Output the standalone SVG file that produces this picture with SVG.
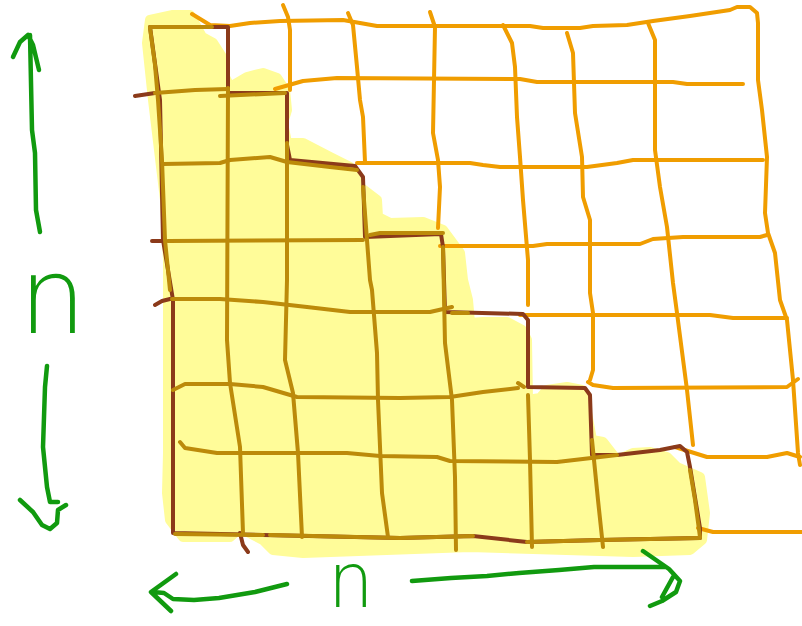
<svg xmlns="http://www.w3.org/2000/svg" width="802" height="626" viewBox="0 0 802 626">
<style>
.hl{fill:#FFFC99;stroke:#FFFC99;stroke-width:10;stroke-linejoin:round}
.o{fill:none;stroke:#F09D00;stroke-width:4;stroke-linecap:round;stroke-linejoin:round}
.b{fill:none;stroke:#8B3A1A;stroke-width:4;stroke-linecap:round;stroke-linejoin:round}
.i{fill:none;stroke:#BC8A0A;stroke-width:4;stroke-linecap:round;stroke-linejoin:round}
.g{fill:none;stroke:#119A0F;stroke-width:4.5;stroke-linecap:round;stroke-linejoin:round}
.t{fill:#119A0F;font-family:"DejaVu Sans","Liberation Sans",sans-serif;font-weight:200}
</style>
<rect width="802" height="626" fill="#ffffff"/>
<g id="highlight">
<path class="hl" d="M150,20 L173,15 L190,15 L202,37 L213,43 L222,57 L225,77 L230,87 L247,77 L263,73 L277,78 L285,90 L287,110 L283,123 L287,143 L303,143 L330,157 L350,167 L360,187 L377,200 L378,217 L390,223 L423,222 L443,230 L460,253 L463,280 L468,300 L470,323 L483,322 L507,322 L522,330 L527,340 L528,400 L540,398 L547,390 L567,387 L582,390 L587,413 L592,440 L603,442 L617,460 L633,453 L650,452 L667,457 L677,467 L700,477 L705,513 L702,540 L690,550 L633,552 L470,547 L303,553 L273,550 L263,540 L240,528 L230,537 L183,537 L170,520 L167,493 L168,453 L168,260 L165,200 L153,100 L147,43 Z"/>
</g>
<g id="outer-grid">
<path class="o" d="M192,14 L210,25 L230,26 L250,23 L280,21 L343,20 L377,26 L530,26 L543,28 L580,28 L593,26 L627,25 L653,21 L690,16 L730,10 L737,7 L750,7 L757,13 L758,23 L758,80 L762,110 L767,157 L765,213 L768,233 L775,253 L780,300 L787,320 L793,380 L798,453 L800,465"/>
<path class="o" d="M275,89 L303,81 L337,78 L520,79 L537,82 L673,82 L687,84 L743,84"/>
<path class="o" d="M357,163 L470,163 L483,165 L500,167 L587,167 L617,163 L633,160 L763,160"/>
<path class="o" d="M440,246 L533,246 L547,244 L640,244 L653,239 L683,237 L760,237 L767,235"/>
<path class="o" d="M520,315 L710,315 L733,318 L787,318"/>
<path class="o" d="M588,382 L593,385 L613,388 L787,387 L798,379"/>
<path class="o" d="M675,447 L707,457 L767,457 L787,453 L800,457"/>
<path class="o" d="M698,528 L713,532 L802,532"/>
<path class="o" d="M283,5 L288,17 L290,30 L290,90"/>
<path class="o" d="M348,13 L353,25 L357,67 L360,100 L363,117 L365,162"/>
<path class="o" d="M430,12 L435,27 L433,133 L438,160 L440,187 L438,228"/>
<path class="o" d="M503,25 L512,43 L515,67 L517,117 L520,157 L523,200 L528,260 L528,305"/>
<path class="o" d="M567,33 L573,53 L575,113 L582,157 L583,197 L590,220 L590,293 L593,313 L593,370 L590,380"/>
<path class="o" d="M648,23 L655,40 L655,150 L660,187 L667,227 L673,283 L677,313 L687,390 L693,445"/>
</g>
<g id="staircase">
<path class="b" d="M150,27 L228,27 L228,93 L287,93 L287,145 L290,160 L355,166 L363,177 L365,237 L441,234 L443,247 L445,312 L523,314 L528,320 L528,387 L585,388 L590,395 L592,455 L617,455 L660,450 L680,446 L687,452 L690,467 L700,528 L700,538 L600,540 L527,542 L473,536 L400,538 L263,535 L173,533 L173,300 L163,240 L160,100 L150,27"/>
<path class="b" d="M135,96 L155,93 M152,241 L166,241 M155,305 L162,301 L170,299 M240,533 L243,545 L248,552"/>
</g>
<g id="inner-grid">
<path class="i" d="M150,27 L212,27"/>
<path class="i" d="M155,93 L195,90 L228,89 M220,96 L285,93"/>
<path class="i" d="M163,164 L220,163 L230,160 L270,157 L287,162 L330,167 L357,170"/>
<path class="i" d="M168,241 L363,240 M370,235 L380,233 L443,233"/>
<path class="i" d="M172,299 L220,299 L263,302 L307,307 L350,312 L430,312 L452,307 M452,313 L468,313"/>
<path class="i" d="M173,390 L185,384 L230,384 L263,387 L297,397 L400,398 L450,397 L483,392 L518,388 M518,383 L524,387"/>
<path class="i" d="M180,442 L185,448 L217,453 L297,453 L347,453 L380,456 L437,457 L450,461 L557,462 L600,457 L617,455"/>
<path class="i" d="M175,534 L263,535 M270,535 L400,538 L473,536 M527,542 L600,540 L700,538"/>
<path class="i" d="M150,28 L155,65 L158,100 L162,160 L165,240 L170,290"/>
<path class="i" d="M228,88 L227,340 L230,383 L240,447 L243,533"/>
<path class="i" d="M287,143 L287,280 L285,360 L293,393 L298,453 L302,537"/>
<path class="i" d="M363,187 L370,280 L372,290 L377,353 L378,400 L382,493 L388,537"/>
<path class="i" d="M443,247 L445,343 L452,400 L455,477 L456,550"/>
<path class="i" d="M528,395 L530,460 L532,547"/>
<path class="i" d="M592,440 L595,470 L598,500 L603,547"/>
<path class="i" d="M690,470 L695,500 L700,537"/>
</g>
<g id="arrows">
<path class="g" d="M40,232 L36,210 L35,153 L32,130 L30,35 M13,57 L20,42 L28,35 L33,45 L39,70"/>
<path class="g" d="M47,366 L45,387 L43,447 L47,487 L50,502 L58,502 M20,500 L33,512 L42,525 L50,529 L57,523 L58,510 L66,505"/>
<path class="g" d="M287,584 L255,592 L219,598 L194,600 L173,599 L164,593 L153,592 M176,574 L151,592 L171,611"/>
<path class="g" d="M412,581 L451,578 L487,576 L519,573 L559,570 L594,567 L666,567 M643,551 L669,569 L680,581 L676,592 L662,601 L650,606 M673,577 L662,597"/>
</g>
<g id="labels">
<text class="t" x="19" y="333" font-size="106">n</text>
<text class="t" transform="translate(328,607) scale(1,1.07)" font-size="72">n</text>
</g>
</svg>
